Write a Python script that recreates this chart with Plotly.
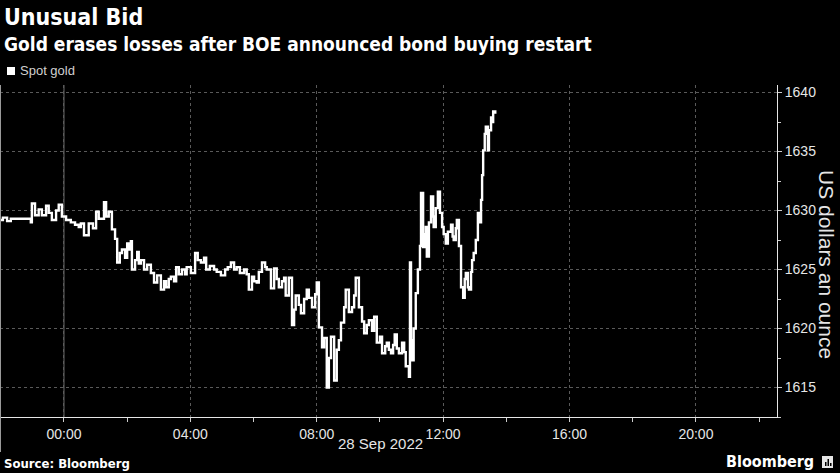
import plotly.graph_objects as go

# ---- data ----
times = [
    "2022-09-27 21:57", "2022-09-27 22:04", "2022-09-27 22:12", "2022-09-27 22:19",
    "2022-09-27 22:57", "2022-09-27 22:59", "2022-09-27 23:05", "2022-09-27 23:12",
    "2022-09-27 23:18", "2022-09-27 23:26", "2022-09-27 23:31", "2022-09-27 23:37",
    "2022-09-27 23:45", "2022-09-27 23:50", "2022-09-27 23:56",
    "2022-09-28 00:04", "2022-09-28 00:13", "2022-09-28 00:21", "2022-09-28 00:28",
    "2022-09-28 00:32", "2022-09-28 00:38", "2022-09-28 00:47", "2022-09-28 00:55",
    "2022-09-28 01:01", "2022-09-28 01:06", "2022-09-28 01:16", "2022-09-28 01:20",
    "2022-09-28 01:25", "2022-09-28 01:31", "2022-09-28 01:37", "2022-09-28 01:41",
    "2022-09-28 01:46", "2022-09-28 01:50", "2022-09-28 01:56", "2022-09-28 02:00",
    "2022-09-28 02:03", "2022-09-28 02:07", "2022-09-28 02:09", "2022-09-28 02:15",
    "2022-09-28 02:19", "2022-09-28 02:22", "2022-09-28 02:26", "2022-09-28 02:32",
    "2022-09-28 02:38", "2022-09-28 02:45", "2022-09-28 02:51", "2022-09-28 02:57",
    "2022-09-28 03:04", "2022-09-28 03:10", "2022-09-28 03:14", "2022-09-28 03:19",
    "2022-09-28 03:23", "2022-09-28 03:29", "2022-09-28 03:33", "2022-09-28 03:38",
    "2022-09-28 03:44", "2022-09-28 03:50", "2022-09-28 03:53", "2022-09-28 04:01",
    "2022-09-28 04:09", "2022-09-28 04:14", "2022-09-28 04:20", "2022-09-28 04:26",
    "2022-09-28 04:30", "2022-09-28 04:37", "2022-09-28 04:45", "2022-09-28 04:50",
    "2022-09-28 04:58", "2022-09-28 05:06", "2022-09-28 05:11", "2022-09-28 05:17",
    "2022-09-28 05:23", "2022-09-28 05:28", "2022-09-28 05:34", "2022-09-28 05:42",
    "2022-09-28 05:47", "2022-09-28 05:51", "2022-09-28 05:57", "2022-09-28 06:01",
    "2022-09-28 06:06", "2022-09-28 06:10", "2022-09-28 06:16", "2022-09-28 06:22",
    "2022-09-28 06:25", "2022-09-28 06:33", "2022-09-28 06:39", "2022-09-28 06:44",
    "2022-09-28 06:48", "2022-09-28 06:54", "2022-09-28 06:58", "2022-09-28 07:01",
    "2022-09-28 07:07", "2022-09-28 07:13", "2022-09-28 07:17", "2022-09-28 07:20",
    "2022-09-28 07:26", "2022-09-28 07:30", "2022-09-28 07:36", "2022-09-28 07:41",
    "2022-09-28 07:45", "2022-09-28 07:51", "2022-09-28 07:57", "2022-09-28 08:00",
    "2022-09-28 08:04", "2022-09-28 08:10", "2022-09-28 08:14", "2022-09-28 08:19",
    "2022-09-28 08:23", "2022-09-28 08:27", "2022-09-28 08:33", "2022-09-28 08:38",
    "2022-09-28 08:42", "2022-09-28 08:46", "2022-09-28 08:52", "2022-09-28 08:55",
    "2022-09-28 09:01", "2022-09-28 09:07", "2022-09-28 09:11", "2022-09-28 09:14",
    "2022-09-28 09:20", "2022-09-28 09:26", "2022-09-28 09:30", "2022-09-28 09:35",
    "2022-09-28 09:39", "2022-09-28 09:45", "2022-09-28 09:49", "2022-09-28 09:54",
    "2022-09-28 10:00", "2022-09-28 10:04", "2022-09-28 10:10", "2022-09-28 10:13",
    "2022-09-28 10:17", "2022-09-28 10:21", "2022-09-28 10:25", "2022-09-28 10:28",
    "2022-09-28 10:32", "2022-09-28 10:36", "2022-09-28 10:42", "2022-09-28 10:46",
    "2022-09-28 10:49", "2022-09-28 10:55", "2022-09-28 10:57", "2022-09-28 10:59",
    "2022-09-28 11:01", "2022-09-28 11:04", "2022-09-28 11:08", "2022-09-28 11:12",
    "2022-09-28 11:16", "2022-09-28 11:18", "2022-09-28 11:22", "2022-09-28 11:25",
    "2022-09-28 11:27", "2022-09-28 11:29", "2022-09-28 11:33", "2022-09-28 11:37",
    "2022-09-28 11:41", "2022-09-28 11:42", "2022-09-28 11:46", "2022-09-28 11:50",
    "2022-09-28 11:54", "2022-09-28 11:58", "2022-09-28 12:01", "2022-09-28 12:05",
    "2022-09-28 12:09", "2022-09-28 12:15", "2022-09-28 12:18", "2022-09-28 12:20",
    "2022-09-28 12:24", "2022-09-28 12:26", "2022-09-28 12:30", "2022-09-28 12:34",
    "2022-09-28 12:38", "2022-09-28 12:41", "2022-09-28 12:43", "2022-09-28 12:47",
    "2022-09-28 12:49", "2022-09-28 12:53", "2022-09-28 12:55", "2022-09-28 12:58",
    "2022-09-28 13:02", "2022-09-28 13:06", "2022-09-28 13:08", "2022-09-28 13:12",
    "2022-09-28 13:14", "2022-09-28 13:16", "2022-09-28 13:19", "2022-09-28 13:21",
    "2022-09-28 13:25", "2022-09-28 13:27", "2022-09-28 13:31", "2022-09-28 13:33",
    "2022-09-28 13:35", "2022-09-28 13:39",
]
spot_gold = [
    1629.2, 1629.4, 1629.1, 1629.3,
    1629.0, 1630.6, 1629.6, 1630.1,
    1629.6, 1630.4, 1629.8, 1629.2,
    1630.0, 1630.5, 1629.5,
    1629.2, 1629.0, 1628.8, 1628.6,
    1628.9, 1627.9, 1628.9, 1628.5,
    1629.9, 1629.3, 1630.7, 1629.5,
    1629.9, 1628.4, 1627.6, 1625.6,
    1626.4, 1626.7, 1626.0, 1627.2,
    1626.7, 1627.4, 1625.0, 1625.8,
    1626.5, 1625.5, 1625.8, 1625.0,
    1625.4, 1624.7, 1623.9, 1624.5,
    1623.3, 1624.0, 1623.5, 1624.2,
    1624.4, 1624.0, 1625.2, 1624.6,
    1625.0, 1624.6, 1625.2, 1624.7,
    1626.4, 1625.8, 1625.6, 1626.0,
    1625.0, 1625.3, 1625.0, 1624.8,
    1624.5, 1625.0, 1625.2, 1625.6,
    1625.0, 1625.2, 1624.7, 1625.0,
    1624.6, 1623.3, 1624.4, 1624.0,
    1623.9, 1624.8, 1625.6, 1625.2,
    1625.0, 1623.4, 1625.1, 1624.2,
    1623.5, 1624.0, 1624.3, 1622.8,
    1624.3, 1620.3, 1621.6, 1622.8,
    1622.0, 1621.3, 1622.5, 1623.3,
    1622.6, 1621.8, 1622.9, 1623.9,
    1620.1, 1618.4, 1619.2, 1615.0,
    1617.5, 1619.3, 1615.6, 1618.2,
    1619.0, 1620.5, 1621.8, 1623.3,
    1621.4, 1621.8, 1622.8, 1624.3,
    1621.8, 1620.6, 1619.6, 1620.3,
    1620.7, 1619.8, 1621.0, 1618.8,
    1619.3, 1617.9, 1618.5, 1618.8,
    1618.2, 1617.9, 1618.6, 1619.5,
    1618.3, 1617.9, 1618.8, 1618.0,
    1616.8, 1615.9, 1625.6, 1619.0,
    1617.3, 1620.0, 1623.0, 1625.0,
    1627.0, 1631.5, 1626.9, 1628.0,
    1628.6, 1626.1, 1629.0, 1631.2,
    1629.5, 1628.6, 1630.2, 1631.6,
    1629.8, 1628.6, 1628.0, 1627.2,
    1628.2, 1628.8, 1627.8, 1627.5,
    1628.5, 1629.2, 1627.0, 1623.5,
    1622.6, 1624.2, 1624.7, 1623.5,
    1623.3, 1624.8, 1625.8, 1626.4,
    1627.5, 1629.8, 1629.0, 1630.9,
    1633.0, 1635.1, 1636.5, 1637.1,
    1635.1, 1636.8, 1637.9, 1637.5,
    1638.4, 1638.2,
]
x_tick_vals = ["2022-09-28 00:00", "2022-09-28 04:00", "2022-09-28 08:00",
               "2022-09-28 12:00", "2022-09-28 16:00", "2022-09-28 20:00"]
x_tick_text = ["00:00", "04:00", "08:00", "12:00", "16:00", "20:00"]
y_tick_vals = [1615, 1620, 1625, 1630, 1635, 1640]

title = "Unusual Bid"
subtitle = "Gold erases losses after BOE announced bond buying restart"
series_name = "Spot gold"
y_title = "US dollars an ounce"
date_label = "28 Sep 2022"
source = "Source: Bloomberg"

# ---- layout geometry (pixels) ----
W, H = 840, 473
L, R, T, B = 0, 63, 85, 56
PW, PH = W - L - R, H - T - B


def px(xp):
    return (xp - L) / PW


def py(yp):
    return (H - B - yp) / PH


BOLD = "DejaVu Sans Condensed, DejaVu Sans, sans-serif"
REG = "Liberation Sans, Arial, sans-serif"

fig = go.Figure()
fig.add_trace(go.Scatter(
    x=times, y=spot_gold, mode="lines", name=series_name,
    line=dict(color="white", width=2.4, shape="hv"),
    showlegend=False,
))

fig.update_layout(
    width=W, height=H,
    margin=dict(l=L, r=R, t=T, b=B, pad=0),
    paper_bgcolor="black", plot_bgcolor="black",
    font=dict(family=REG, color="#e6e6e6", size=14),
    xaxis=dict(
        type="date",
        range=["2022-09-27 21:58:30", "2022-09-28 22:34"],
        tickvals=x_tick_vals, ticktext=x_tick_text,
        ticks="outside", ticklen=4, tickcolor="#cccccc", tickwidth=1,
        showline=True, linecolor="#e6e6e6", linewidth=1,
        showgrid=True, gridcolor="#5a5a5a", griddash="dot", gridwidth=1,
        zeroline=False,
        tickfont=dict(size=14, color="#e6e6e6", family=REG),
        minor=dict(dtick=2 * 3600 * 1000, tick0="2022-09-28 00:00",
                   ticks="outside", ticklen=4, tickcolor="#cccccc", showgrid=False),
    ),
    yaxis=dict(
        side="right",
        range=[1612.5, 1640.64],
        tickvals=y_tick_vals,
        ticks="outside", ticklen=4, tickcolor="#cccccc",
        showline=True, linecolor="#e6e6e6", linewidth=1,
        showgrid=True, gridcolor="#5a5a5a", griddash="dot", gridwidth=1,
        zeroline=False,
        tickfont=dict(size=14, color="#e6e6e6", family=REG),
        minor=dict(dtick=2.5, tick0=1615, ticks="outside", ticklen=3,
                   tickcolor="#cccccc", showgrid=False),
    ),
)

shapes = [
    # solid day-boundary line at midnight
    dict(type="line", xref="x", yref="paper", x0="2022-09-28 00:00", x1="2022-09-28 00:00",
         y0=0, y1=1, line=dict(color="#6e6e6e", width=1), layer="below"),
    # left frame line extending below the axis
    dict(type="line", xref="paper", yref="paper", x0=px(0.5), x1=px(0.5),
         y0=py(452), y1=1, line=dict(color="#9a9a9a", width=1)),
    # legend swatch
    dict(type="rect", xref="paper", yref="paper", x0=px(7), x1=px(15),
         y0=py(75), y1=py(67), fillcolor="white", line=dict(width=0)),
    # Bloomberg logo mark
    dict(type="rect", xref="paper", yref="paper", x0=px(822), x1=px(833),
         y0=py(468), y1=py(456), fillcolor="#e6e6e6", line=dict(width=0)),
]
for bx0, bx1, btop in [(825, 826.5, 462), (827.5, 829, 459), (830, 831.5, 463)]:
    shapes.append(dict(type="rect", xref="paper", yref="paper", x0=px(bx0), x1=px(bx1),
                       y0=py(466), y1=py(btop), fillcolor="black", line=dict(width=0)))
fig.update_layout(shapes=shapes)

annotations = [
    dict(text=f"<b>{title}</b>", x=px(2), y=py(17), xanchor="left", yanchor="middle",
         font=dict(family=BOLD, size=23, color="white")),
    dict(text=f"<b>{subtitle}</b>", x=px(2), y=py(44), xanchor="left", yanchor="middle",
         font=dict(family=BOLD, size=19, color="white")),
    dict(text=series_name, x=px(18), y=py(71), xanchor="left", yanchor="middle",
         font=dict(family=REG, size=13, color="#d0d0d0")),
    dict(text=y_title, x=px(827), y=py(264), xanchor="center", yanchor="middle",
         textangle=90, font=dict(family=REG, size=21, color="#e6e6e6")),
    dict(text=date_label, x=px(380), y=py(443), xanchor="center", yanchor="middle",
         font=dict(family=REG, size=15, color="#e6e6e6")),
    dict(text=f"<b>{source}</b>", x=px(2), y=py(463), xanchor="left", yanchor="middle",
         font=dict(family=BOLD, size=13, color="white")),
    dict(text="<b>Bloomberg</b>", x=px(816), y=py(462), xanchor="right", yanchor="middle",
         font=dict(family=BOLD, size=16, color="white")),
]
for a in annotations:
    a.update(xref="paper", yref="paper", showarrow=False)
fig.update_layout(annotations=annotations)

fig.write_html("out.html", config={"displayModeBar": False},
               post_script="document.body.style.margin='0';document.body.style.overflow='hidden';")
